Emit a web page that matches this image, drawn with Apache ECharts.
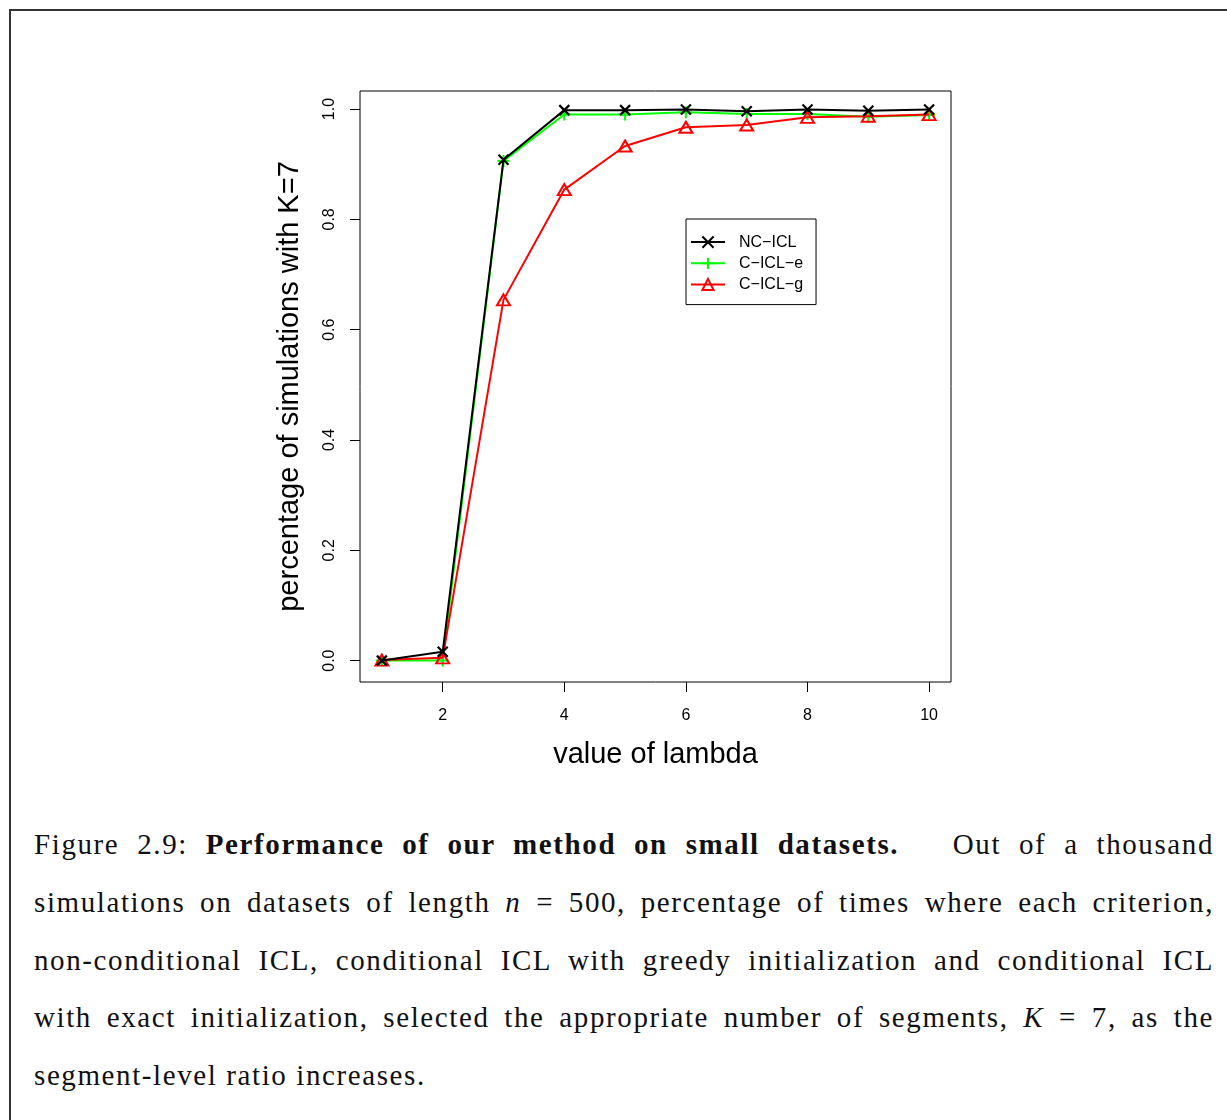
<!DOCTYPE html>
<html>
<head>
<meta charset="utf-8">
<script src="https://cdn.jsdelivr.net/npm/echarts@6/dist/echarts.min.js"></script>
<style>
    html, body { margin: 0; padding: 0; background: #fff; }
    #page { position: relative; width: 1227px; height: 1120px; overflow: hidden; }
    #frame { position: absolute; left: 9px; top: 9px; width: 1240px; height: 1200px;
             border-top: 2px solid #333; border-left: 2px solid #333; }
    #main { position: absolute; left: 0; top: 0; width: 1227px; height: 800px; }
    #caption { position: absolute; left: 34px; top: 816px; width: 1180px;
               font-family: "Liberation Serif", "DejaVu Serif", serif; font-size: 29px;
               letter-spacing: 1.6px; line-height: 57.75px; color: #111; }
    #caption .ln { text-align: justify; text-align-last: justify; white-space: nowrap; }
    #caption .ln.last { text-align-last: left; }
</style>
</head>
<body>
<div id="page">
    <div id="frame"></div>
    <div id="main"></div>
    <div id="caption">
        <div class="ln">Figure 2.9: <b>Performance of our method on small datasets.</b>&nbsp;&nbsp; Out of a thousand</div>
        <div class="ln">simulations on datasets of length <i>n</i> = 500, percentage of times where each criterion,</div>
        <div class="ln">non-conditional ICL, conditional ICL with greedy initialization and conditional ICL</div>
        <div class="ln">with exact initialization, selected the appropriate number of segments, <i>K</i> = 7, as the</div>
        <div class="ln last">segment-level ratio increases.</div>
    </div>
</div>
<script>
// 横轴：lambda 取值
const lambdaValues = [1, 2, 3, 4, 5, 6, 7, 8, 9, 10];

// 三个准则选中 K=7 的比例
const ncIcl = [0.000, 0.016, 0.908, 0.998, 0.998, 0.999, 0.996, 0.999, 0.997, 0.999];
const cIclE = [0.000, 0.000, 0.906, 0.990, 0.990, 0.994, 0.991, 0.991, 0.986, 0.989];
const cIclG = [0.001, 0.005, 0.654, 0.854, 0.933, 0.967, 0.971, 0.985, 0.987, 0.990];

// 刻度
const xTicks = [2, 4, 6, 8, 10];
const yTicks = [0, 0.2, 0.4, 0.6, 0.8, 1.0];

const seriesNames = ['NC\u2212ICL', 'C\u2212ICL\u2212e', 'C\u2212ICL\u2212g'];

const sans = '"Liberation Sans", Arial, Helvetica, sans-serif';

const pairs = (ys) => lambdaValues.map((x, i) => [x, ys[i]]);

var myChart = echarts.init(document.getElementById('main'));

const option = {
    animation: false,
    textStyle: { fontFamily: sans },
    grid: {
        left: 360,
        top: 91,
        width: 591,
        height: 591,
        show: true,
        borderColor: '#000',
        borderWidth: 1,
        backgroundColor: 'transparent'
    },
    legend: {
        orient: 'vertical',
        left: 686,
        top: 219,
        data: seriesNames,
        itemWidth: 34,
        itemHeight: 14,
        itemGap: 5,
        padding: [15, 13, 12, 4],
        borderColor: '#000',
        borderWidth: 1,
        backgroundColor: '#fff',
        textStyle: { fontSize: 16, color: '#000', fontFamily: sans, padding: [0, 0, 0, 9] }
    },
    xAxis: {
        type: 'value',
        min: 0.64,
        max: 10.36,
        name: 'value of lambda',
        nameLocation: 'middle',
        nameGap: 58,
        nameTextStyle: { fontSize: 29, color: '#000', fontFamily: sans },
        splitLine: { show: false },
        axisLine: { show: false, onZero: false },
        axisTick: {
            show: true,
            inside: false,
            customValues: xTicks,
            length: 10,
            lineStyle: { color: '#000', width: 1 }
        },
        axisLabel: {
            customValues: xTicks,
            margin: 26,
            fontSize: 16,
            color: '#000',
            fontFamily: sans
        }
    },
    yAxis: {
        type: 'value',
        min: -0.0388,
        max: 1.0327,
        name: 'percentage of simulations with K=7',
        nameLocation: 'middle',
        nameGap: 56,
        nameTextStyle: { fontSize: 29, color: '#000', fontFamily: sans },
        splitLine: { show: false },
        axisLine: { show: false, onZero: false },
        axisTick: {
            show: true,
            inside: false,
            customValues: yTicks,
            length: 10,
            lineStyle: { color: '#000', width: 1 }
        },
        axisLabel: {
            customValues: yTicks,
            rotate: 90,
            margin: 22,
            fontSize: 16,
            color: '#000',
            fontFamily: sans,
            formatter: function (v) {
                return v.toFixed(1);
            }
        }
    },
    series: [
        {
            name: seriesNames[0],
            type: 'line',
            data: pairs(ncIcl),
            z: 4,
            symbol: 'path://M0,0 L10,10 M10,0 L0,10',
            symbolSize: 10,
            lineStyle: { color: '#000', width: 2 },
            itemStyle: { color: 'none', borderColor: '#000', borderWidth: 2.2 }
        },
        {
            name: seriesNames[1],
            type: 'line',
            data: pairs(cIclE),
            z: 2,
            symbol: 'path://M5,0 L5,10 M0,5 L10,5',
            symbolSize: 12,
            lineStyle: { color: '#00ff00', width: 2 },
            itemStyle: { color: 'none', borderColor: '#00ff00', borderWidth: 2 }
        },
        {
            name: seriesNames[2],
            type: 'line',
            data: pairs(cIclG),
            z: 3,
            symbol: 'triangle',
            symbolSize: [13, 11],
            lineStyle: { color: '#ff0000', width: 2 },
            itemStyle: { color: 'none', borderColor: '#ff0000', borderWidth: 2 }
        }
    ]
};

myChart.setOption(option);
</script>
</body>
</html>
